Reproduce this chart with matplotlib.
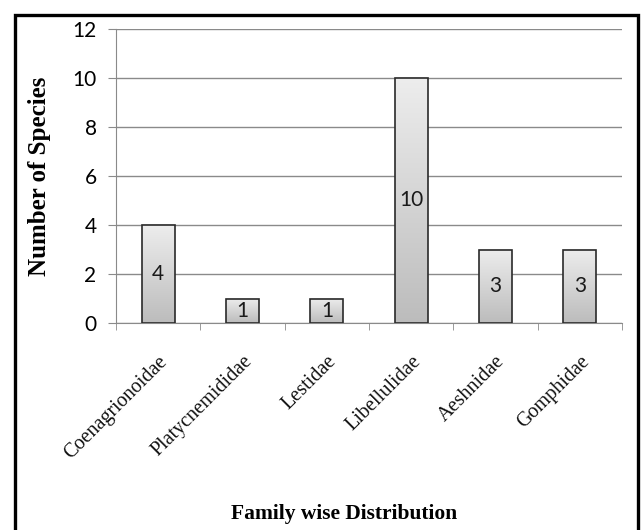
import matplotlib
matplotlib.use("Agg")
import matplotlib.pyplot as plt
import numpy as np
from matplotlib.patches import Rectangle

categories = ["Coenagrionoidae", "Platycnemididae", "Lestidae", "Libellulidae", "Aeshnidae", "Gomphidae"]
values = [4, 1, 1, 10, 3, 3]
yticks = [0, 2, 4, 6, 8, 10, 12]

fig = plt.figure(figsize=(6.43, 5.30), dpi=100)
W, H = 643, 530
ax = fig.add_axes([116 / W, 1 - 323 / H, (622 - 116) / W, (323 - 29) / H])

# outer frame
fig.patches.append(Rectangle((14.5 / W, -0.05), (637.5 - 14.5) / W, (1 - 14.5 / H) + 0.05,
                             transform=fig.transFigure, fill=False, edgecolor="black",
                             linewidth=2.4, zorder=10))

x = np.arange(len(categories))
bw = 0.39
grad = np.linspace(0, 1, 256).reshape(-1, 1)
cmap = matplotlib.colors.LinearSegmentedColormap.from_list("g", ["#bcbcbc", "#ededed"])
bars = ax.bar(x, values, width=bw, facecolor="none", edgecolor="#2a2a2a", linewidth=1.2, zorder=4)
for b in bars:
    x0, y0, w, h = b.get_x(), b.get_y(), b.get_width(), b.get_height()
    ax.imshow(grad, extent=(x0, x0 + w, y0, y0 + h), origin="lower", cmap=cmap,
              aspect="auto", zorder=3, interpolation="bicubic")

for xi, v in zip(x, values):
    ax.text(xi, v / 2, str(v), ha="center", va="center", fontsize=15,
            family="Lato", color="#1a1a1a", zorder=5)

ax.set_xlim(-0.5, len(categories) - 0.5)
ax.set_ylim(0, 12)
ax.set_yticks(yticks)
ax.set_yticklabels([str(t) for t in yticks], fontsize=15, family="Lato")
ax.yaxis.grid(True, color="#8a8a8a", linewidth=1.0, zorder=1)
ax.set_axisbelow(True)

ax.set_xticks(x)
ax.set_xticklabels(categories, rotation=45, ha="right", rotation_mode="anchor",
                   fontsize=14.5, family="Liberation Serif", color="#111111")
ax.tick_params(axis="x", length=0, pad=21)
ax.set_xticks(np.arange(-0.5, len(categories)), minor=True)
ax.tick_params(axis="x", which="minor", length=5, color="#8a8a8a", direction="out")
ax.tick_params(axis="y", length=6, color="#8a8a8a", pad=8)

for s in ["top", "right"]:
    ax.spines[s].set_visible(False)
ax.spines["left"].set_color("#8a8a8a")
ax.spines["bottom"].set_color("#8a8a8a")

fig.text(40 / W, 1 - 176 / H, "Number of Species", rotation=90, ha="center", va="center",
         fontsize=18, fontweight="bold", family="Liberation Serif")
fig.text(344 / W, 1 - 514 / H, "Family wise Distribution", ha="center", va="center",
         fontsize=15.5, fontweight="bold", family="Liberation Serif")

fig.savefig("out.png", dpi=100, facecolor="white")
